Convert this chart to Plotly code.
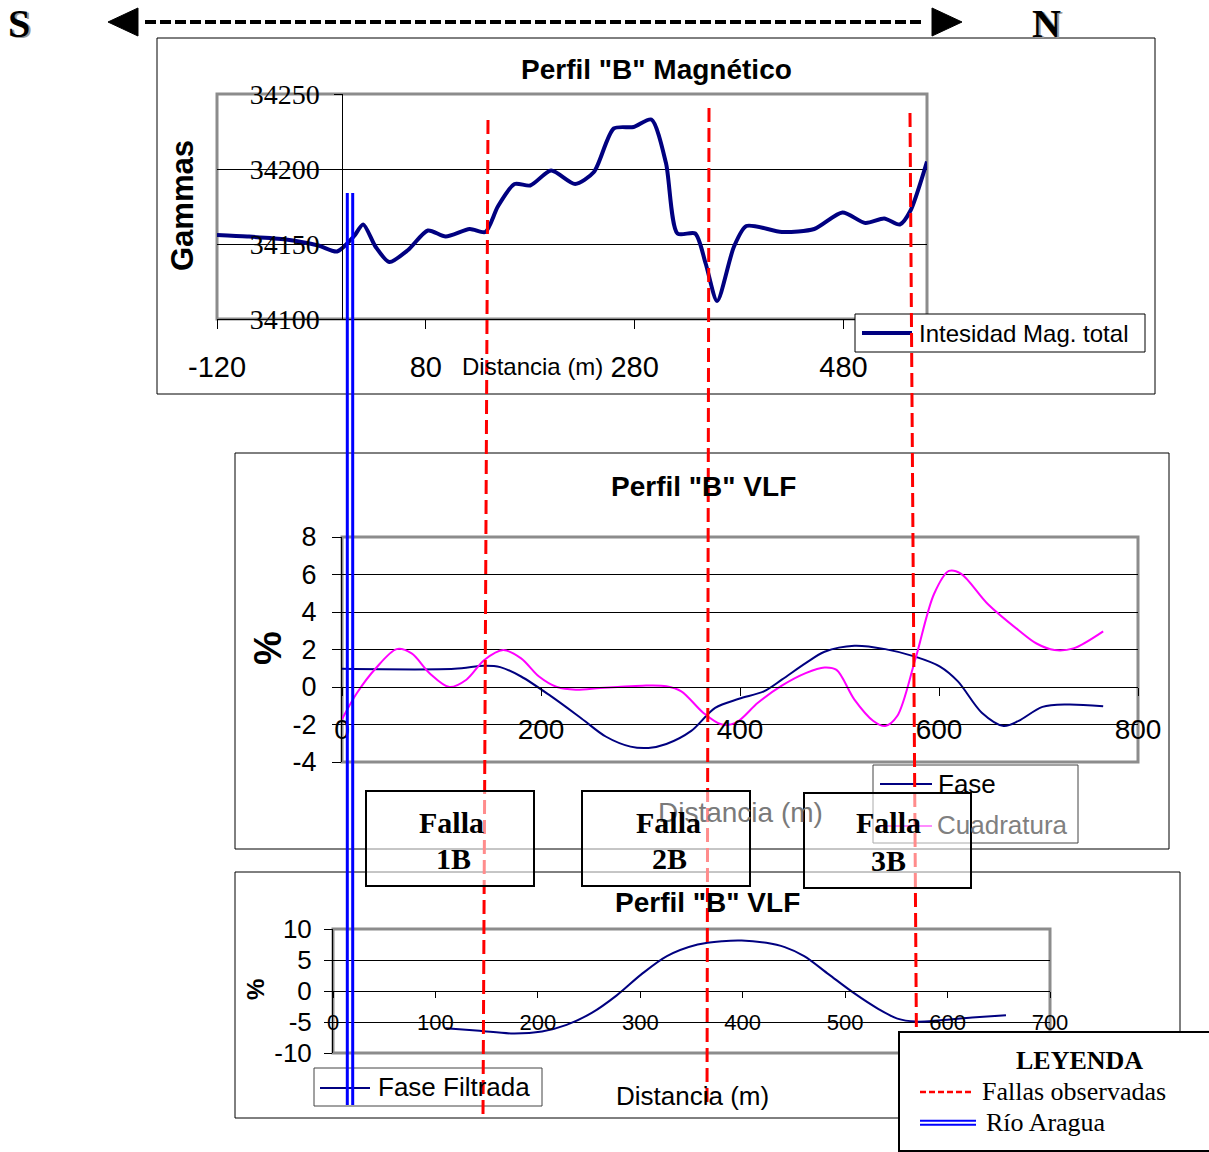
import plotly.graph_objects as go

# ---------------------------------------------------------------
# Profile "B": total magnetic intensity, VLF (phase / quadrature)
# and filtered VLF phase, with observed faults and the Aragua river
# ---------------------------------------------------------------

# Magnetic profile
mag_dist = [-120, -91, -54, -23, -5, 11, 20, 32, 45, 63, 82, 99, 122, 137, 149,
            165, 180, 200, 223, 241, 260, 279, 296, 310, 321, 338, 348, 359, 375,
            387, 421, 452, 479, 501, 519, 534, 544, 560]
mag_gamma = [34156, 34155, 34153, 34149, 34145, 34155, 34163, 34148, 34138, 34146,
             34159, 34155, 34160, 34158, 34175, 34190, 34189, 34199, 34190, 34198,
             34227, 34228, 34233, 34204, 34157, 34157, 34137, 34112, 34148, 34162,
             34158, 34160, 34171, 34164, 34167, 34163, 34172, 34205]

# VLF profile
fase_dist = [0, 113, 143, 159, 180, 210, 241, 265, 290, 308, 326, 351, 375, 399,
             424, 442, 466, 485, 515, 546, 576, 601, 619, 643, 665, 680, 704, 729, 765]
fase = [0.97, 0.97, 1.13, 1.06, 0.56, -0.49, -1.69, -2.64, -3.18, -3.25, -3.04,
        -2.34, -1.11, -0.63, -0.23, 0.39, 1.27, 1.88, 2.2, 2.02, 1.62, 1.09, 0.3,
        -1.37, -2.08, -1.81, -1.06, -0.93, -1.02]
cuad_dist = [0, 15, 34, 55, 70, 88, 108, 125, 143, 162, 180, 198, 216, 235, 259,
             277, 302, 326, 341, 363, 381, 396, 418, 442, 466, 485, 497, 515, 534,
             546, 558, 576, 595, 610, 622, 649, 680, 698, 716, 735, 765]
cuadratura = [-1.72, -0.32, 1.0, 2.02, 1.79, 0.74, 0.0, 0.39, 1.44, 1.97, 1.53, 0.56,
              0.0, -0.14, -0.05, 0.0, 0.07, 0.04, -0.23, -1.37, -1.99, -1.9, -0.84,
              0.07, 0.74, 1.04, 0.91, -0.67, -1.81, -2.08, -1.55, 1.44, 4.96, 6.19,
              6.05, 4.43, 3.03, 2.32, 1.97, 2.06, 2.97]

# Filtered VLF phase
filt_dist = [110, 143, 176, 204, 228, 253, 277, 301, 326, 356, 380, 399, 423, 441,
             460, 484, 508, 533, 551, 569, 593, 624, 657]
fase_filtrada = [-6.0, -6.43, -6.86, -6.54, -5.47, -3.49, -0.7, 2.68, 5.63, 7.5,
                 8.04, 8.15, 7.77, 7.08, 5.63, 2.68, -0.27, -2.95, -4.45, -4.93,
                 -4.72, -4.29, -3.91]

# Tick values
mag_xticks = [-120, 80, 280, 480]
mag_yticks = [34100, 34150, 34200, 34250]
vlf_xticks = [0, 200, 400, 600, 800]
vlf_yticks = [-4, -2, 0, 2, 4, 6, 8]
filt_xticks = [0, 100, 200, 300, 400, 500, 600, 700]
filt_yticks = [-10, -5, 0, 5, 10]

# Page geometry (pixels) -> paper coordinates
W, H = 1209, 1152
SANS = "Liberation Sans, Arial, sans-serif"
SERIF = "Liberation Serif, Times New Roman, serif"
NAVY = "#000080"
MAGENTA = "#FF00FF"
RED = "#FF0000"
BLUE = "#0000FF"
GREY = "#8c8c8c"


def px(x):
    return x / W


def py(y):
    return 1 - y / H


fig = go.Figure()
fig.add_trace(go.Scatter(x=mag_dist, y=mag_gamma, mode="lines", name="Intesidad Mag. total",
                         line=dict(color=NAVY, width=4, shape="spline", smoothing=0.7),
                         xaxis="x", yaxis="y", showlegend=False))
fig.add_trace(go.Scatter(x=fase_dist, y=fase, mode="lines", name="Fase",
                         line=dict(color=NAVY, width=2, shape="spline", smoothing=0.9),
                         xaxis="x2", yaxis="y2", showlegend=False))
fig.add_trace(go.Scatter(x=cuad_dist, y=cuadratura, mode="lines", name="Cuadratura",
                         line=dict(color=MAGENTA, width=2, shape="spline", smoothing=0.9),
                         xaxis="x2", yaxis="y2", showlegend=False))
fig.add_trace(go.Scatter(x=filt_dist, y=fase_filtrada, mode="lines", name="Fase Filtrada",
                         line=dict(color=NAVY, width=2, shape="spline", smoothing=0.9),
                         xaxis="x3", yaxis="y3", showlegend=False))


def axis(**kw):
    base = dict(showgrid=False, zeroline=False, showline=True, linecolor="black",
                linewidth=1, ticks="outside", tickcolor="black", tickwidth=1,
                tickmode="array", fixedrange=True, automargin=False)
    base.update(kw)
    return base


def grid(vals):
    # interior gridlines only; the plot-area frame covers the ends
    return dict(tickmode="array", tickvals=vals[1:-1], showgrid=True,
                gridcolor="black", gridwidth=1, ticks="")


fig.update_layout(
    template="none",
    width=W, height=H, autosize=False,
    margin=dict(l=0, r=0, t=0, b=0, pad=0),
    paper_bgcolor="white", plot_bgcolor="white",
    showlegend=False,
    xaxis=axis(domain=[px(217), px(927)], range=[-120, 560], anchor="y",
               tickvals=mag_xticks, ticktext=[str(v) for v in mag_xticks],
               ticklen=9, tickfont=dict(family=SANS, size=29, color="black"),
               ticklabelstandoff=13),
    yaxis=axis(domain=[py(319), py(94)], range=[34100, 34250], anchor="free",
               position=px(342.3), tickvals=mag_yticks,
               ticktext=[str(v) for v in mag_yticks], ticklen=8,
               tickfont=dict(family=SERIF, size=28, color="black"),
               ticklabelstandoff=9, minor=grid(mag_yticks)),
    xaxis2=axis(domain=[px(342), px(1138)], range=[0, 800], anchor="free",
                position=py(687), tickvals=vlf_xticks,
                ticktext=[str(v) for v in vlf_xticks], ticklen=8,
                tickfont=dict(family=SANS, size=28, color="black"),
                ticklabelstandoff=9),
    yaxis2=axis(domain=[py(762), py(537)], range=[-4, 8], anchor="x2",
                tickvals=vlf_yticks, ticktext=[str(v) for v in vlf_yticks],
                ticklen=9, tickfont=dict(family=SANS, size=27, color="black"),
                ticklabelstandoff=10, minor=grid(vlf_yticks)),
    xaxis3=axis(domain=[px(333), px(1050)], range=[0, 700], anchor="free",
                position=py(991), tickvals=filt_xticks,
                ticktext=[str(v) for v in filt_xticks], ticklen=6,
                tickfont=dict(family=SANS, size=22, color="black"),
                ticklabelstandoff=6),
    yaxis3=axis(domain=[py(1053), py(929)], range=[-10, 10], anchor="x3",
                tickvals=filt_yticks, ticktext=[str(v) for v in filt_yticks],
                ticklen=8, tickfont=dict(family=SANS, size=26, color="black"),
                ticklabelstandoff=7, minor=grid(filt_yticks)),
)


def rect(x0, y0, x1, y1, color="black", width=1, fill="rgba(0,0,0,0)", layer="above"):
    return dict(type="rect", xref="paper", yref="paper", x0=px(x0), x1=px(x1),
                y0=py(y1), y1=py(y0), line=dict(color=color, width=width),
                fillcolor=fill, layer=layer)


def seg(x0, y0, x1, y1, color="black", width=1, dash="solid", layer="above"):
    return dict(type="line", xref="paper", yref="paper", x0=px(x0), x1=px(x1),
                y0=py(y0), y1=py(y1), line=dict(color=color, width=width, dash=dash),
                layer=layer)


def tri(points, color="black"):
    path = "M " + " L ".join(f"{px(x):.5f},{py(y):.5f}" for x, y in points) + " Z"
    return dict(type="path", xref="paper", yref="paper", path=path,
                fillcolor=color, line=dict(color=color, width=1), layer="above")


shapes = []
# chart frames
shapes += [rect(157, 38, 1155, 394, layer="below"),
           rect(235, 453, 1169, 849, layer="below"),
           rect(235, 872, 1180, 1118, layer="below")]
# plot-area frames
shapes += [rect(217, 94, 927, 319, GREY, 3, layer="below"),
           rect(342, 537, 1138, 762, GREY, 3, layer="below"),
           rect(333, 929, 1050, 1053, GREY, 3, layer="below")]
# legend boxes and keys
shapes += [rect(855, 314, 1145, 352, "black", 1, "white"),
           seg(862, 333, 912, 333, NAVY, 4),
           rect(873, 765, 1078, 843, "#444444", 1, "white"),
           seg(880, 784, 932, 784, NAVY, 2),
           seg(880, 826, 932, 826, MAGENTA, 2),
           rect(314, 1068, 542, 1106, "#444444", 1, "white"),
           seg(320, 1088, 370, 1088, NAVY, 2)]
# observed faults
fault_dash = "14px,6px"
shapes += [seg(488, 120, 483, 1117, RED, 3, fault_dash),
           seg(709, 108, 707, 1104, RED, 3, fault_dash),
           seg(910, 113, 917, 1118, RED, 3, fault_dash)]
# fault labels
shapes += [rect(366, 791, 534, 886, "black", 2, "rgba(255,255,255,0.55)"),
           rect(582, 791, 750, 886, "black", 2, "rgba(255,255,255,0.55)"),
           rect(804, 793, 971, 888, "black", 2, "rgba(255,255,255,0.55)")]
# Aragua river
shapes += [seg(347.3, 193, 347.3, 1105, BLUE, 3),
           seg(352.7, 193, 352.7, 1105, BLUE, 3)]
# legend for overlays
shapes += [rect(899, 1032, 1215, 1151, "black", 2, "white"),
           seg(920, 1092, 973, 1092, RED, 2.5, "6px,3px"),
           seg(920, 1120.7, 976, 1120.7, BLUE, 2),
           seg(920, 1124.7, 976, 1124.7, BLUE, 2)]
# south-north arrow
shapes += [tri([(108, 22), (138, 8), (138, 36)]),
           seg(145, 22, 925, 22, "black", 4, "11px,4px"),
           tri([(962, 22), (932, 8), (932, 36)])]
fig.update_layout(shapes=shapes)


def label(x, y, s, size, family=SANS, bold=False, color="black", xanchor="center", angle=0):
    return dict(xref="paper", yref="paper", x=px(x), y=py(y),
                text=f"<b>{s}</b>" if bold else s, showarrow=False,
                font=dict(family=family, size=size, color=color),
                xanchor=xanchor, yanchor="middle", textangle=angle)


ann = [
    # chart titles
    label(656, 70, 'Perfil "B" Magnético', 28, bold=True),
    label(703, 486, 'Perfil "B" VLF', 28, bold=True),
    label(707, 902, 'Perfil "B" VLF', 28, bold=True),
    # axis titles
    label(532, 367, "Distancia (m)", 24),
    label(183, 206, "Gammas", 31, bold=True, angle=-90),
    label(740, 812, "Distancia (m)", 28, color="#7a7a7a"),
    label(268, 648, "%", 38, bold=True, angle=-90),
    label(692, 1096, "Distancia (m)", 26),
    label(255, 990, "%", 24, bold=True, angle=-90),
    # legend texts
    label(917, 333, "Intesidad Mag. total", 24, xanchor="left"),
    label(936, 784, "Fase", 26, xanchor="left"),
    label(935, 825, "Cuadratura", 26, color="#808080", xanchor="left"),
    label(376, 1087, "Fase Filtrada", 26, xanchor="left"),
    # fault labels
    label(451, 822, "Falla", 30, SERIF, True), label(453, 858, "1B", 30, SERIF, True),
    label(668, 822, "Falla", 30, SERIF, True), label(669, 858, "2B", 30, SERIF, True),
    label(888, 822, "Falla", 30, SERIF, True), label(889, 860, "3B", 30, SERIF, True),
    # overlay legend
    label(1079, 1060, "LEYENDA", 26, SERIF, True),
    label(980, 1091, "Fallas observadas", 26, SERIF, xanchor="left"),
    label(984, 1122, "Río Aragua", 26, SERIF, xanchor="left"),
    # orientation
    label(21, 25, "S", 40, SERIF, True, color="#9a9a9a"),
    label(19, 23, "S", 40, SERIF, True),
    label(1048, 25, "N", 40, SERIF, True, color="#9a9a9a"),
    label(1046, 23, "N", 40, SERIF, True),
]
fig.update_layout(annotations=ann)

fig.write_html("out.html")
